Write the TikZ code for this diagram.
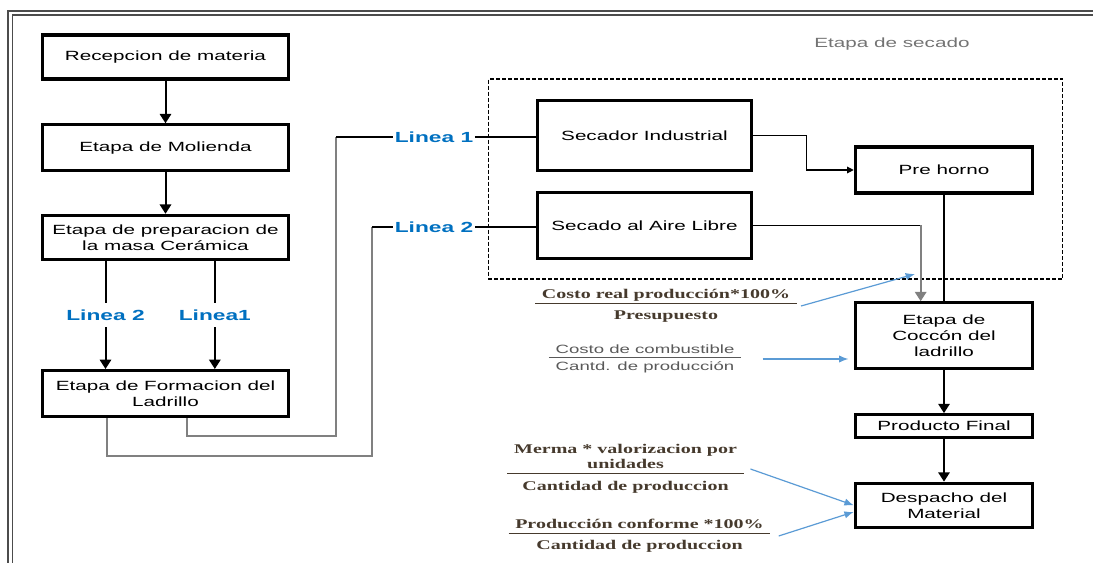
\documentclass[tikz,border=0pt]{standalone}
\usepackage{fontspec}
\setmainfont[FakeStretch=1.55]{Liberation Sans}
\newfontfamily\frmfont[FakeStretch=1.5]{Liberation Serif}
\usetikzlibrary{arrows.meta,positioning}
\definecolor{lineablue}{RGB}{0,112,192}
\definecolor{arrowblue}{RGB}{91,155,213}
\definecolor{frmbrown}{RGB}{70,58,45}
\setlength{\arrayrulewidth}{0.8pt}
\newcommand{\fracbox}[3][12pt]{\begin{tabular}{@{\hspace{5pt}}c@{\hspace{5pt}}}#2\\\hline\rule{0pt}{#1}#3\end{tabular}}

\begin{document}
\begin{tikzpicture}[
  x=0.75pt, y=-0.75pt,
  font=\fontsize{10}{12}\selectfont,
  box/.style={draw, line width=2.4pt, align=center, inner sep=2pt},
  lbl/.style={text=lineablue, font=\fontsize{11}{11}\selectfont\bfseries, inner sep=1pt},
  frm/.style={text=frmbrown, font=\frmfont\bfseries\fontsize{10}{11}\selectfont, inner sep=0pt},
  ar/.style={-{Triangle[length=7pt,width=8.5pt]}, line width=1.5pt},
  link/.style={draw=black!50, line width=1.5pt},
  thin/.style={line width=0.8pt},
  blar/.style={-{Latex[length=7pt,width=5.5pt]}, draw=arrowblue, line width=0.9pt}
]
\useasboundingbox (0,0) rectangle (1093,563);
% marco
\draw[black!70, line width=1.2pt] (1093,11) -- (8,11) -- (8,563);
\draw[black!70, line width=1.2pt] (1093,15) -- (12.5,15) -- (12.5,563);

% columna izquierda
\node[box, minimum width=184pt, minimum height=33pt] (rec) at (165.5,57) {Recepcion de materia};
\node[box, minimum width=184pt, minimum height=34.5pt, below=32pt of rec] (mol) {Etapa de Molienda};
\node[box, minimum width=184pt, minimum height=33pt, below=31pt of mol] (prep) {Etapa de preparacion de\\la masa Cerámica};
\node[box, minimum width=184pt, minimum height=34.5pt, below=81pt of prep] (form) {Etapa de Formacion del\\Ladrillo};
\draw[ar] (rec) -- (mol);
\draw[ar] (mol) -- (prep);
\draw[ar] ([xshift=-45pt]prep.south) -- ([xshift=-45pt]form.north) node[midway, lbl, fill=white, inner sep=5pt] (lbla) {Linea 2};
\draw[ar] ([xshift=37pt]prep.south) -- ([xshift=37pt]form.north) node[midway, lbl, fill=white, inner sep=5pt] (lblb) {Linea1};

% etapa de secado
\node[draw, thin, dash pattern=on 3pt off 1.5pt, minimum width=431pt, minimum height=150pt] (secado) at (775.5,179) {};
\node[text=black!55] (seclbl) at (892,44) {Etapa de secado};
\node[box, minimum width=161pt, minimum height=52pt] (sec) at (644.5,135.5) {Secador Industrial};
\node[box, minimum width=161pt, minimum height=49pt] (aire) at (644.5,225.5) {Secado al Aire Libre};
\node[box, minimum width=133pt, minimum height=34.5pt] (pre) at (944,170) {Pre horno};
\node[lbl] (lin1) at (434,137) {Linea 1};
\node[lbl] (lin2) at (434,227) {Linea 2};

% columna derecha
\node[box, minimum width=133pt, minimum height=49.5pt, below=80pt of pre] (coc) {Etapa de\\Coccón del\\ladrillo};
\node[box, minimum width=133pt, minimum height=17pt, below=32pt of coc] (prod) {Producto Final};
\node[box, minimum width=133pt, minimum height=33pt, below=32pt of prod] (desp) {Despacho del\\Material};

% lineas de formacion
\coordinate (b1) at (336,436);
\coordinate (b2) at (372,456);
\draw[link] ([xshift=16pt]form.south) |- (b1) -- (b1 |- lin1.west);
\draw[thin] (b1 |- lin1.west) -- (lin1.west);
\draw[thin] (lin1.east) -- (lin1.east -| sec.west);
\draw[link] ([xshift=-44pt]form.south) |- (b2) -- (b2 |- lin2.west);
\draw[thin] (b2 |- lin2.west) -- (lin2.west);
\draw[thin] (lin2.east) -- (lin2.east -| aire.west);

\draw[thin, -{Triangle[length=5pt,width=5pt]}] (sec.east) -- ++(53,0) |- (pre.west);
\coordinate (b3) at ([xshift=-17.5pt]coc.north);
\draw[thin] (aire.east) -- (aire.east -| b3);
\draw[link, -{Triangle[length=7pt,width=8.5pt]}, draw=black!50] (aire.east -| b3) -- (b3);
\draw[thin] (pre.south) -- (coc.north);
\draw[ar] (coc) -- (prod);
\draw[ar] (prod) -- (desp);

% indicadores
\node[frm] (f1) at (666,306) {\fracbox{Costo real producción*100\%}{Presupuesto}};
\node[frm, text=black!65, font=\fontsize{9}{10}\selectfont] (f2) at (645,359) {\fracbox[9pt]{Costo de combustible}{Cantd. de producción}};
\node[frm] (f3) at (625.5,469) {\fracbox{Merma * valorizacion por\\unidades}{Cantidad de produccion}};
\node[frm] (f4) at (639.5,536) {\fracbox{Producción conforme *100\%}{Cantidad de produccion}};
\coordinate (t1) at (915,274);
\draw[blar] ([xshift=3pt]f1.east) -- (t1);
\draw[blar] ([xshift=16pt]f2.east) -- ([xshift=-4pt]coc.west |- f2.east);
\draw[blar] ([xshift=5pt]f3.east) -- (desp.west);
\draw[blar] ([xshift=6pt]f4.east) -- ([yshift=-5pt]desp.west);
\end{tikzpicture}
\end{document}
